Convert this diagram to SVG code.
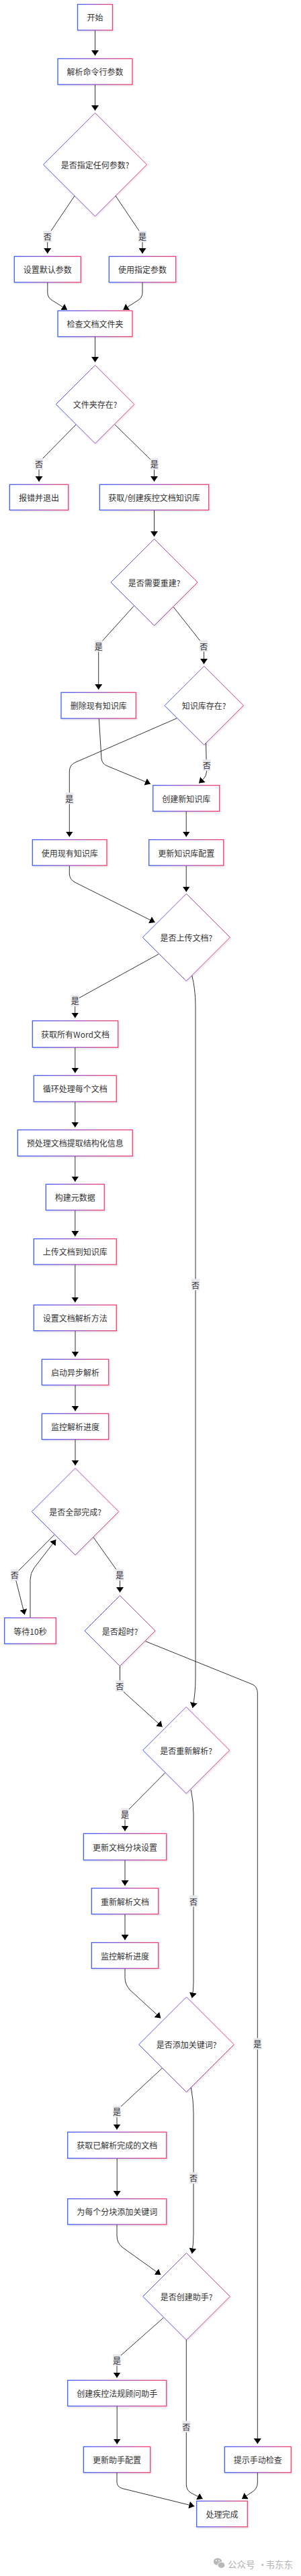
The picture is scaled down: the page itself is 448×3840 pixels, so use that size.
<svg xmlns="http://www.w3.org/2000/svg" width="448" height="3840" viewBox="0 0 448 3840">
<defs>
<linearGradient id="g" x1="0" y1="0" x2="1" y2="0">
<stop offset="0" stop-color="#3f5efb"/>
<stop offset="0.5" stop-color="#9c4fc0"/>
<stop offset="1" stop-color="#f5406c"/>
</linearGradient>
<filter id="sh" x="-10%" y="-10%" width="125%" height="135%">
<feDropShadow dx="1" dy="1.5" stdDeviation="1" flood-color="#000" flood-opacity="0.12"/>
</filter>
<marker id="arr" markerUnits="userSpaceOnUse" viewBox="0 0 8 11" refX="8" refY="5.5" markerWidth="8" markerHeight="11" orient="auto">
<path d="M0,0 L8,5.5 L0,11 Z" fill="#000"/>
</marker>
</defs>
<style>
.node rect{fill:#fff;stroke:url(#g);stroke-width:1.3;filter:url(#sh)}
.node polygon{fill:#fff;stroke:url(#g);stroke-width:1;filter:url(#sh)}
text{font-family:"Noto Sans CJK SC","Noto Sans",sans-serif;font-size:12px;fill:#333;text-anchor:middle;dominant-baseline:central}
#edges path{fill:none;stroke:#333;stroke-width:1;marker-end:url(#arr)}
.lbl rect{fill:#e8e8ef;stroke:none}
.wm{fill:#b3b3b3;font-size:13.5px;text-anchor:start}
</style>
<rect width="448" height="3840" fill="#fff"/>

<g id="edges">
<path d="M141.5,45 L141.5,83"/>
<path d="M141.5,126 L141.5,165"/>
<path d="M111,292 L74,347 Q70.7,352 70.7,358 L70.7,378"/>
<path d="M172,292 L209,347 Q212,352 212,358 L212,378"/>
<path d="M70.8,420.7 L70.8,436 Q70.8,444 78,448 L100,461.7"/>
<path d="M212,420.7 L212,436 Q212,444 205,448 L183.3,461.7"/>
<path d="M141.5,501.7 L141.5,540"/>
<path d="M113,633 L62,685 Q58,689 58,695 L58,718"/>
<path d="M171,633 L225,686 Q229.5,690 229.5,696 L229.5,718"/>
<path d="M229.5,760.3 L229.5,800"/>
<path d="M199.3,903.3 L150,958 Q146.7,962 146.7,968 L146.7,1028"/>
<path d="M258.3,905 L300,958 Q303.5,962 303.5,968 L303.5,990"/>
<path d="M147.3,1071 L151,1131 Q152,1139 160,1142 L224,1168.5"/>
<path d="M263.3,1070.7 L112,1136.5 Q103.3,1140.5 103.3,1150 L103.3,1247.5"/>
<path d="M306.5,1107.5 L307.5,1150 Q307.5,1156 303,1161 L296,1167.5"/>
<path d="M277.2,1209.3 L277.2,1247.5"/>
<path d="M103.3,1290 L103.3,1302 Q103.3,1311 112,1315.5 L230.7,1375"/>
<path d="M277.2,1290 L277.2,1329.5"/>
<path d="M236,1422.3 L117,1488 Q111.7,1491 111.7,1497 L111.7,1517.5"/>
<path d="M285.7,1454 Q291,1475 291,1500 L291,2500 Q291,2525 286.7,2546"/>
<path d="M111.8,1561.3 L111.8,1599.5"/>
<path d="M111.8,1642.3 L111.8,1680.5"/>
<path d="M111.8,1723.3 L111.8,1761.5"/>
<path d="M111.8,1804 L111.8,1843"/>
<path d="M111.8,1885 L111.8,1941.5"/>
<path d="M112,1983.7 L112,2022.5"/>
<path d="M112,2064.7 L112,2103.5"/>
<path d="M112,2145.7 L112,2184.5"/>
<path d="M81,2287.7 L26,2343 Q21.7,2348 23,2353 L36.7,2407"/>
<path d="M45,2411.7 L45,2355 Q45,2345 51,2337 L83.3,2295"/>
<path d="M139,2291.7 L174,2341 Q178.5,2346 178.5,2352 L178.5,2374"/>
<path d="M216.7,2446.7 L376,2511 Q383.3,2514.5 383.3,2524 L383.3,3643"/>
<path d="M178.5,2483.5 L178.5,2510 Q178.5,2517 184,2522 L241.7,2574.3"/>
<path d="M245.7,2642.7 L191,2698 Q186,2703 186,2709 L186,2729.5"/>
<path d="M284.3,2668.3 Q288,2685 288,2705 L288,2955 Q288,2967 285.7,2978.5"/>
<path d="M186,2772.7 L186,2811"/>
<path d="M186,2853.3 L186,2892"/>
<path d="M186,2934.3 L186,2948 Q186,2958 193,2966 L239.3,3008.5"/>
<path d="M241.7,3082.7 L179,3141 Q174,3146 174,3152 L174,3174.5"/>
<path d="M284.3,3111.7 Q288,3130 288,3150 L288,3330 Q288,3345 285.7,3359.5"/>
<path d="M174.2,3217.3 L174.2,3274"/>
<path d="M174,3316 L174,3333 Q174,3343 182,3350 L239.3,3391"/>
<path d="M243.3,3455 L179,3512 Q174,3516 174,3522 L174,3544.5"/>
<path d="M277.3,3488 L277.3,3703 Q277.3,3712 284,3716 L301.7,3725"/>
<path d="M174.2,3586.7 L174.2,3643.5"/>
<path d="M174,3685.7 L174,3700 Q174,3707 182,3709.5 L289.3,3736"/>
<path d="M383.3,3685.7 L383.3,3701 Q383.3,3710 375,3715 L360,3725"/>
</g>

<g id="edge-labels">
<g class="lbl"><rect x="64.7" y="344" width="12" height="17"/><text x="70.7" y="352.5">否</text></g>
<g class="lbl"><rect x="206" y="344" width="12" height="17"/><text x="212" y="352.5">是</text></g>
<g class="lbl"><rect x="52" y="683.2" width="12" height="17"/><text x="58" y="691.7">否</text></g>
<g class="lbl"><rect x="223.7" y="683.2" width="12" height="17"/><text x="229.7" y="691.7">是</text></g>
<g class="lbl"><rect x="140.7" y="954.5" width="12" height="17"/><text x="146.7" y="963">是</text></g>
<g class="lbl"><rect x="297.3" y="954.5" width="12" height="17"/><text x="303.3" y="963">否</text></g>
<g class="lbl"><rect x="301.7" y="1132.2" width="12" height="17"/><text x="307.7" y="1140.7">否</text></g>
<g class="lbl"><rect x="97.3" y="1181.5" width="12" height="17"/><text x="103.3" y="1190">是</text></g>
<g class="lbl"><rect x="105.7" y="1483.2" width="12" height="17"/><text x="111.7" y="1491.7">是</text></g>
<g class="lbl"><rect x="285" y="1906.5" width="12" height="17"/><text x="291" y="1915">否</text></g>
<g class="lbl"><rect x="15.7" y="2339.2" width="12" height="17"/><text x="21.7" y="2347.7">否</text></g>
<g class="lbl"><rect x="172.3" y="2339.2" width="12" height="17"/><text x="178.3" y="2347.7">是</text></g>
<g class="lbl"><rect x="172.3" y="2504.8" width="12" height="17"/><text x="178.3" y="2513.3">否</text></g>
<g class="lbl"><rect x="377.3" y="3038.2" width="12" height="17"/><text x="383.3" y="3046.7">是</text></g>
<g class="lbl"><rect x="180" y="2695.5" width="12" height="17"/><text x="186" y="2704">是</text></g>
<g class="lbl"><rect x="282" y="2825.5" width="12" height="17"/><text x="288" y="2834">否</text></g>
<g class="lbl"><rect x="168" y="3139.2" width="12" height="17"/><text x="174" y="3147.7">是</text></g>
<g class="lbl"><rect x="282" y="3238.2" width="12" height="17"/><text x="288" y="3246.7">否</text></g>
<g class="lbl"><rect x="168" y="3509.5" width="12" height="17"/><text x="174" y="3518">是</text></g>
<g class="lbl"><rect x="271.3" y="3608.8" width="12" height="17"/><text x="277.3" y="3617.3">否</text></g>
</g>

<g id="n-start" class="node"><rect x="115.5" y="6.5" width="52" height="38.5"/><text x="141.5" y="25.75">开始</text></g>
<g id="n-parse" class="node"><rect x="86" y="87.5" width="111" height="38.5"/><text x="141.5" y="106.75">解析命令行参数</text></g>
<g id="d-args" class="node"><polygon points="141.5,168.3 218.5,245.3 141.5,322.3 64.5,245.3"/><text x="141.5" y="245.3">是否指定任何参数?</text></g>
<g id="n-default" class="node"><rect x="21.3" y="382.3" width="99" height="38.5"/><text x="70.8" y="401.5">设置默认参数</text></g>
<g id="n-useargs" class="node"><rect x="162.3" y="382.3" width="99.4" height="38.5"/><text x="212" y="401.5">使用指定参数</text></g>
<g id="n-checkdir" class="node"><rect x="86" y="463.3" width="111" height="38.5"/><text x="141.5" y="482.5">检查文档文件夹</text></g>
<g id="d-dir" class="node"><polygon points="141.6,544.4 199.9,602.7 141.6,661 83.3,602.7"/><text x="141.6" y="602.7">文件夹存在?</text></g>
<g id="n-error" class="node"><rect x="14.3" y="722.3" width="87.4" height="38"/><text x="58" y="741.3">报错并退出</text></g>
<g id="n-getkb" class="node"><rect x="148.3" y="722.3" width="162.4" height="38"/><text x="229.5" y="741.3">获取/创建疾控文档知识库</text></g>
<g id="d-rebuild" class="node"><polygon points="229.5,803.5 294,868 229.5,932.5 165,868"/><text x="229.5" y="868">是否需要重建?</text></g>
<g id="n-delkb" class="node"><rect x="91" y="1032.3" width="111.3" height="38.7"/><text x="146.7" y="1051.7">删除现有知识库</text></g>
<g id="d-kbexists" class="node"><polygon points="303.7,993 362.4,1051.7 303.7,1110.4 245,1051.7"/><text x="303.7" y="1051.7">知识库存在?</text></g>
<g id="n-newkb" class="node"><rect x="227.7" y="1170.7" width="99" height="38.6"/><text x="277.2" y="1190">创建新知识库</text></g>
<g id="n-usekb" class="node"><rect x="48.3" y="1251.7" width="110.7" height="38.5"/><text x="103.7" y="1271">使用现有知识库</text></g>
<g id="n-updkb" class="node"><rect x="221.7" y="1251.7" width="111" height="38.5"/><text x="277.2" y="1271">更新知识库配置</text></g>
<g id="d-upload" class="node"><polygon points="277.3,1332.3 342.3,1397.3 277.3,1462.3 212.3,1397.3"/><text x="277.3" y="1397.3">是否上传文档?</text></g>
<g id="n-getword" class="node"><rect x="48.3" y="1521.7" width="127.4" height="39.6"/><text x="112" y="1541.5">获取所有Word文档</text></g>
<g id="n-loop" class="node"><rect x="50.3" y="1603.3" width="123" height="39"/><text x="111.8" y="1622.8">循环处理每个文档</text></g>
<g id="n-preproc" class="node"><rect x="26.3" y="1684.3" width="171" height="39"/><text x="111.8" y="1703.8">预处理文档提取结构化信息</text></g>
<g id="n-meta" class="node"><rect x="68.3" y="1765.3" width="87" height="38.7"/><text x="111.8" y="1784.7">构建元数据</text></g>
<g id="n-uploaddoc" class="node"><rect x="50.3" y="1846.7" width="123" height="38.3"/><text x="111.8" y="1865.9">上传文档到知识库</text></g>
<g id="n-setparse" class="node"><rect x="50.3" y="1945.3" width="123" height="38.4"/><text x="111.8" y="1964.5">设置文档解析方法</text></g>
<g id="n-async" class="node"><rect x="62.3" y="2026.3" width="99.4" height="38.4"/><text x="112" y="2045.5">启动异步解析</text></g>
<g id="n-monitor1" class="node"><rect x="62.3" y="2107.3" width="99.4" height="38.4"/><text x="112" y="2126.5">监控解析进度</text></g>
<g id="d-alldone" class="node"><polygon points="112,2188.6 176.7,2253.3 112,2318 47.3,2253.3"/><text x="112" y="2253.3">是否全部完成?</text></g>
<g id="n-wait" class="node"><rect x="6.7" y="2411.7" width="76.6" height="38.6"/><text x="45" y="2431">等待10秒</text></g>
<g id="d-timeout" class="node"><polygon points="178.5,2378.5 231,2431 178.5,2483.5 126,2431"/><text x="178.5" y="2431">是否超时?</text></g>
<g id="d-reparse" class="node"><polygon points="277.2,2544.5 341.7,2609 277.2,2673.5 212.7,2609"/><text x="277.2" y="2609">是否重新解析?</text></g>
<g id="n-chunk" class="node"><rect x="124.3" y="2733.3" width="123.4" height="39.4"/><text x="186" y="2753">更新文档分块设置</text></g>
<g id="n-reparsedoc" class="node"><rect x="136.3" y="2814.7" width="99.4" height="38.6"/><text x="186" y="2834">重新解析文档</text></g>
<g id="n-monitor2" class="node"><rect x="136.3" y="2895.7" width="99.4" height="38.6"/><text x="186" y="2915">监控解析进度</text></g>
<g id="d-keywords" class="node"><polygon points="277.5,2976.9 348.3,3047.7 277.5,3118.5 206.7,3047.7"/><text x="277.5" y="3047.7">是否添加关键词?</text></g>
<g id="n-getparsed" class="node"><rect x="100.7" y="3178.3" width="147" height="39"/><text x="174.2" y="3197.8">获取已解析完成的文档</text></g>
<g id="n-addkw" class="node"><rect x="100.7" y="3277.7" width="147" height="38.3"/><text x="174.2" y="3296.8">为每个分块添加关键词</text></g>
<g id="d-assistant" class="node"><polygon points="277.5,3358.5 342.3,3423.3 277.5,3488.1 212.7,3423.3"/><text x="277.5" y="3423.3">是否创建助手?</text></g>
<g id="n-createasst" class="node"><rect x="100.7" y="3548.3" width="147" height="38.4"/><text x="174.2" y="3567.5">创建疾控法规顾问助手</text></g>
<g id="n-updasst" class="node"><rect x="124.3" y="3647.3" width="99.4" height="38.4"/><text x="174" y="3666.5">更新助手配置</text></g>
<g id="n-manual" class="node"><rect x="334.3" y="3647.3" width="99" height="38.4"/><text x="383.8" y="3666.5">提示手动检查</text></g>
<g id="n-done" class="node"><rect x="292.7" y="3728.3" width="75.6" height="38.4"/><text x="330.5" y="3747.5">处理完成</text></g>

<g id="watermark">
<ellipse cx="324" cy="3818.5" rx="6.2" ry="5.3" fill="#b8b8b8"/>
<ellipse cx="329.5" cy="3823.8" rx="5.4" ry="4.6" fill="#b8b8b8" stroke="#fff" stroke-width="1"/>
<circle cx="321.8" cy="3817" r="0.9" fill="#fff"/>
<circle cx="326" cy="3817" r="0.9" fill="#fff"/>
<text class="wm"><tspan x="339" y="3821.7">公众号</tspan><tspan x="384" y="3821.7">·</tspan><tspan x="395.5" y="3821.7">韦东东</tspan></text>
</g>
</svg>
